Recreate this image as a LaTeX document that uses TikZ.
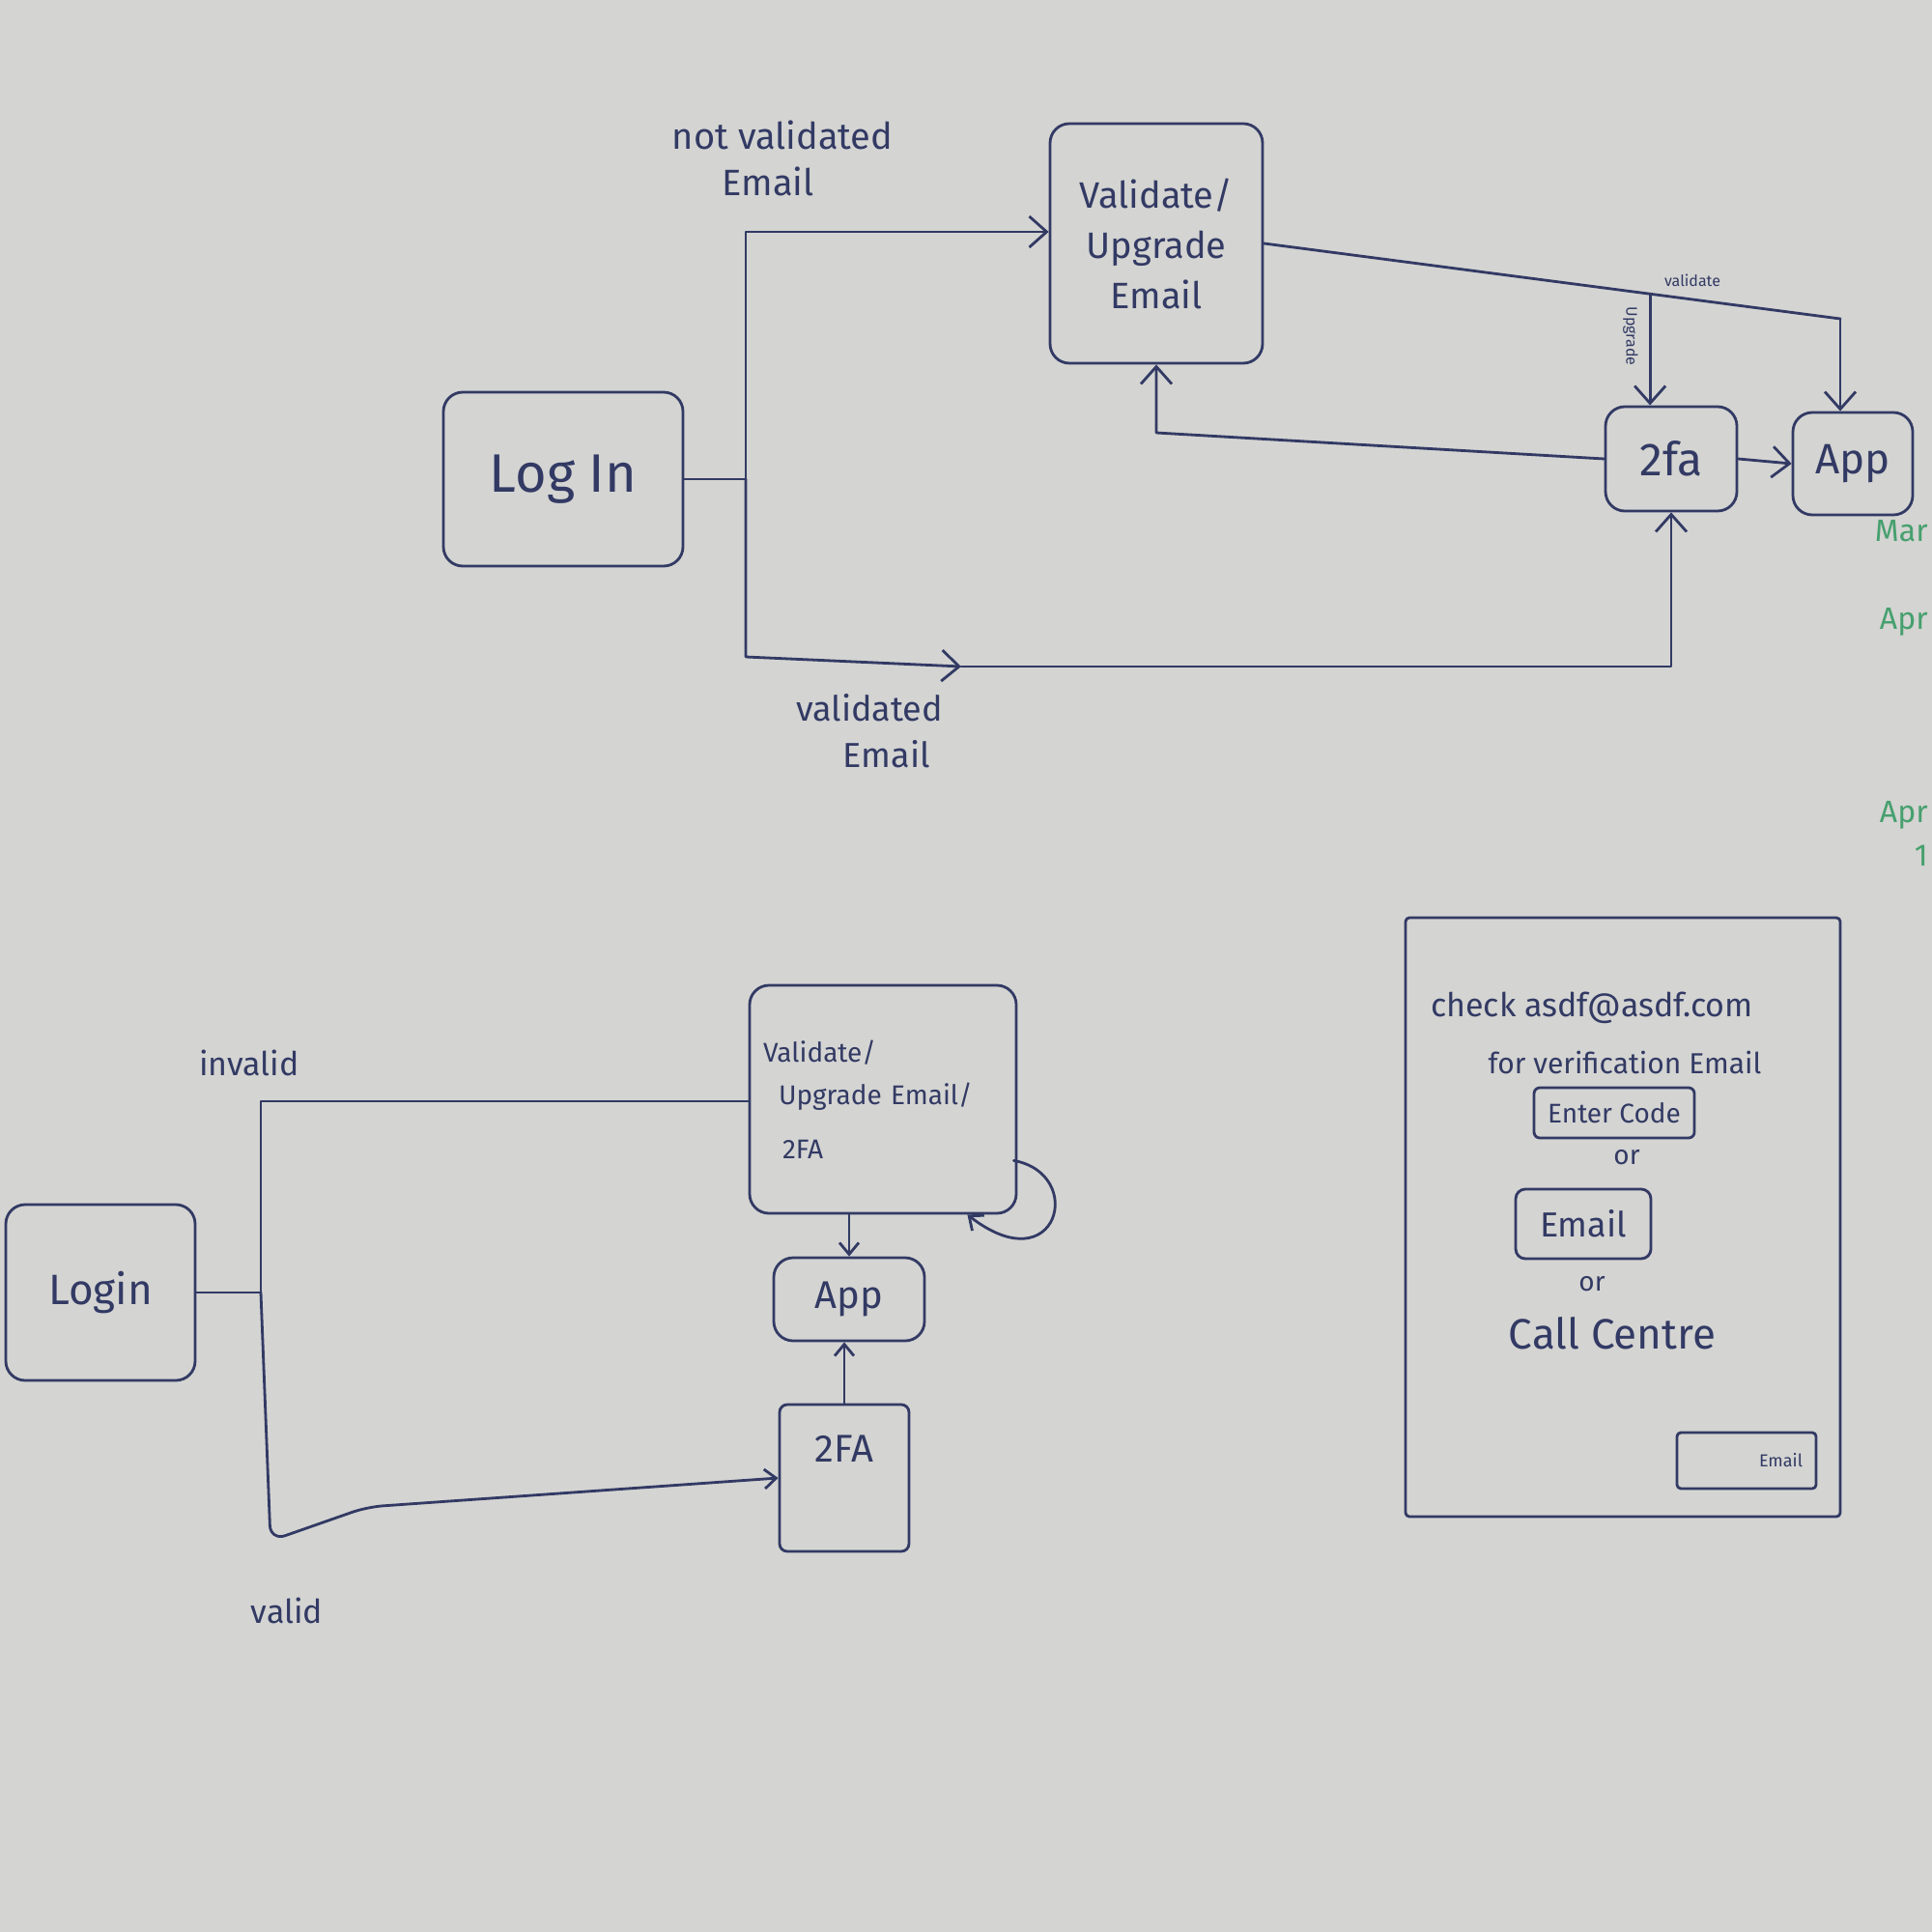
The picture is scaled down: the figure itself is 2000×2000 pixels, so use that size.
\documentclass[tikz,border=0pt]{standalone}
\usepackage{fontspec}
\setmainfont{Fira Sans}
\usetikzlibrary{arrows.meta,calc}
\definecolor{inkc}{RGB}{50,58,100}
\definecolor{board}{RGB}{212,212,210}
\definecolor{greenink}{RGB}{70,160,110}
\newcommand{\fsz}[2]{\fontsize{#1}{#2}\selectfont}
\tikzset{
  ink/.style={draw=inkc, line width=1.4pt, line cap=round, line join=round},
  box/.style={ink, rounded corners=10pt, inner sep=2pt, align=center, text=inkc},
  lbl/.style={text=inkc, inner sep=1pt, align=center},
  arr/.style={ink, -{Straight Barb[length=9pt,width=16pt]}},
  sarr/.style={ink, -{Straight Barb[length=6pt,width=10pt]}},
  greentxt/.style={anchor=east, text=greenink, inner sep=0pt, font=\fsz{16}{18}}
}
\begin{document}
\begin{tikzpicture}[x=0.5pt,y=-0.5pt]
\useasboundingbox (0,0) rectangle (2000,2000);
\fill[board] (0,0) rectangle (2000,2000);

% ---------------- top flow ----------------
\node[box, minimum width=124pt, minimum height=90pt, font=\fsz{28}{32}] (login1) at (583,496) {Log In};
\node[box, minimum width=110pt, minimum height=124pt, font=\fsz{19}{26}] (val1) at (1197,252) {Validate/\\Upgrade\\Email};
\node[box, minimum width=68pt, minimum height=54pt, font=\fsz{24}{28}] (twofa1) at (1730,475) {2fa};
\node[box, minimum width=62pt, minimum height=53pt, font=\fsz{22}{26}] (app1) at (1918,480) {App};

\coordinate (tTop) at (772,240);
\coordinate (tJ) at (772,496);
\coordinate (tBot) at (772,680);
\coordinate (cm) at (995,690);
\coordinate (cr) at (1730,690);
\draw[ink] (login1.east) -- (tJ);
\draw[arr] (tJ) -- (tTop) -- (tTop -| val1.west);
\draw[arr] (tJ) -- (tBot) -- (cm);
\draw[arr] (cm) -- (cr) -- (twofa1.south);

\node[lbl, font=\fsz{19}{22}] (lnv1) at (810,140) {not validated};
\node[lbl, font=\fsz{19}{22}] (lnv2) at (795,188) {Email};
\node[lbl, font=\fsz{18}{22}] (lv1) at (900,733) {validated};
\node[lbl, font=\fsz{18}{22}] (lv2) at (918,781) {Email};

\coordinate (vR) at (1905,330);
\draw[ink] (val1.east) -- (vR);
\draw[arr] (vR) -- (vR |- app1.north);
\coordinate (vS) at ($(val1.east)!0.67!(vR)$);
\draw[arr] (vS) -- (vS |- twofa1.north);
\node[lbl, font=\fsz{8}{10}] (lvalid) at (1752,290) {validate};
\node[lbl, font=\fsz{8}{10}, rotate=-90] (lupg) at (1688,348) {Upgrade};

\draw[arr] (twofa1.east) -- (app1.west);
\coordinate (bk) at (1197,448);
\draw[arr] (twofa1.west) -- (bk) -- (val1.south);

\node[greentxt] (g1) at (1996,550) {Mar};
\node[greentxt] (g2) at (1996,644) {Apr};
\node[greentxt] (g3) at (1996,844) {Apr};
\node[greentxt] (g4) at (1996,886) {1};

% ---------------- bottom-left flow ----------------
\node[box, minimum width=98pt, minimum height=91pt, font=\fsz{22}{26}] (login2) at (104,1338) {Login};
\node[box, minimum width=138pt, minimum height=118pt, text width=124pt, inner sep=7pt, align=left, font=\fsz{14}{22}] (val2) at (914,1138)
  {Validate/\\\hspace*{8pt}Upgrade Email/\\[6pt]\hspace*{10pt}2FA};
\node[box, minimum width=78pt, minimum height=43pt, font=\fsz{20}{24}] (app2) at (879,1345) {App};
\node[box, rounded corners=4pt, minimum width=67pt, minimum height=76pt, text depth=30pt, font=\fsz{20}{24}] (twofa2) at (874,1530) {2FA};

\coordinate (jL) at (270,1338);
\coordinate (tTop2) at (270,1140);
\coordinate (tBot2) at (280,1595);
\coordinate (bc) at (380,1560);
\draw[ink] (login2.east) -- (jL);
\draw[ink] (jL) -- (tTop2) -- (tTop2 -| val2.west);
\draw[sarr, rounded corners=8pt] (jL) -- (tBot2) -- (bc) -- (twofa2.west);

\node[lbl, font=\fsz{17}{20}] (linv) at (258,1100) {invalid};
\node[lbl, font=\fsz{17}{20}] (lval2) at (297,1667) {valid};

\draw[sarr] (app2.north |- val2.south) -- (app2.north);
\draw[sarr] (twofa2.north) -- (twofa2.north |- app2.south);
\draw[sarr] ($(val2.south east)+(-4,-56)$) .. controls (1125,1215) and (1095,1330) .. ($(val2.south east)+(-52,0)$);

% ---------------- phone mock-up ----------------
\node[ink, rounded corners=2pt, minimum width=225pt, minimum height=310pt] (phone) at (1680,1260) {};
\node[lbl, font=\fsz{17}{20}] (pc1) at (1648,1043) {check asdf@asdf.com};
\node[lbl, font=\fsz{15}{18}] (pc2) at (1682,1100) {for verification Email};
\node[box, rounded corners=3pt, minimum width=83pt, minimum height=26pt, font=\fsz{14}{16}] (pcode) at (1671,1152) {Enter Code};
\node[lbl, font=\fsz{14}{16}] (por1) at (1684,1198) {or};
\node[box, rounded corners=5pt, minimum width=70pt, minimum height=36pt, font=\fsz{18}{20}] (pemail) at (1639,1267) {Email};
\node[lbl, font=\fsz{14}{16}] (por2) at (1648,1329) {or};
\node[lbl, font=\fsz{22}{26}] (pcall) at (1669,1380) {Call Centre};
\node[box, rounded corners=2pt, minimum width=72pt, minimum height=29pt, text width=58pt, align=right, inner sep=7pt, font=\fsz{9}{11}] (pbtn) at (1808,1512) {Email};
\end{tikzpicture}
\end{document}
